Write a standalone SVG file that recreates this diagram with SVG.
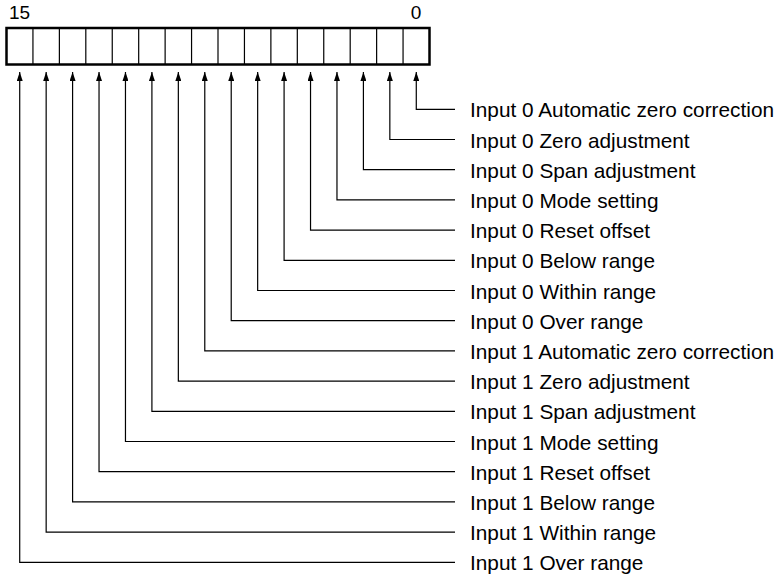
<svg xmlns="http://www.w3.org/2000/svg" width="783" height="575" viewBox="0 0 783 575">
<style>
.t{font-family:"Liberation Sans",Arial,sans-serif;font-size:20.8px;fill:#000}
.n{font-family:"Liberation Sans",Arial,sans-serif;font-size:19px;fill:#000}
.c{fill:none;stroke:#000;stroke-width:1.2}
.d{stroke:#000;stroke-width:1.2}
</style>
<defs>
<marker id="ah" viewBox="0 0 9 6" refX="9" refY="3" markerWidth="9" markerHeight="6" markerUnits="userSpaceOnUse" orient="auto">
<path d="M0,0 L9,3 L0,6 Z" fill="#000"/>
</marker>
</defs>
<rect width="783" height="575" fill="#fff"/>
<g id="register">
<text class="n" x="9" y="18.5">15</text>
<text class="n" x="416" y="18.5" text-anchor="middle">0</text>
<rect x="6.5" y="28" width="423" height="36.5" fill="none" stroke="#000" stroke-width="2.5"/>
<line class="d" x1="32.94" y1="28" x2="32.94" y2="64.5"/>
<line class="d" x1="59.38" y1="28" x2="59.38" y2="64.5"/>
<line class="d" x1="85.81" y1="28" x2="85.81" y2="64.5"/>
<line class="d" x1="112.25" y1="28" x2="112.25" y2="64.5"/>
<line class="d" x1="138.69" y1="28" x2="138.69" y2="64.5"/>
<line class="d" x1="165.13" y1="28" x2="165.13" y2="64.5"/>
<line class="d" x1="191.56" y1="28" x2="191.56" y2="64.5"/>
<line class="d" x1="218" y1="28" x2="218" y2="64.5"/>
<line class="d" x1="244.44" y1="28" x2="244.44" y2="64.5"/>
<line class="d" x1="270.88" y1="28" x2="270.88" y2="64.5"/>
<line class="d" x1="297.31" y1="28" x2="297.31" y2="64.5"/>
<line class="d" x1="323.75" y1="28" x2="323.75" y2="64.5"/>
<line class="d" x1="350.19" y1="28" x2="350.19" y2="64.5"/>
<line class="d" x1="376.63" y1="28" x2="376.63" y2="64.5"/>
<line class="d" x1="403.06" y1="28" x2="403.06" y2="64.5"/>
</g>
<g id="connectors">
<path class="c" marker-end="url(#ah)" d="M455,109.3 H416.28 V72"/>
<path class="c" marker-end="url(#ah)" d="M455,139.5 H389.84 V72"/>
<path class="c" marker-end="url(#ah)" d="M455,169.7 H363.41 V72"/>
<path class="c" marker-end="url(#ah)" d="M455,199.9 H336.97 V72"/>
<path class="c" marker-end="url(#ah)" d="M455,230.1 H310.53 V72"/>
<path class="c" marker-end="url(#ah)" d="M455,260.3 H284.09 V72"/>
<path class="c" marker-end="url(#ah)" d="M455,290.5 H257.66 V72"/>
<path class="c" marker-end="url(#ah)" d="M455,320.7 H231.22 V72"/>
<path class="c" marker-end="url(#ah)" d="M455,350.9 H204.78 V72"/>
<path class="c" marker-end="url(#ah)" d="M455,381.1 H178.34 V72"/>
<path class="c" marker-end="url(#ah)" d="M455,411.3 H151.91 V72"/>
<path class="c" marker-end="url(#ah)" d="M455,441.5 H125.47 V72"/>
<path class="c" marker-end="url(#ah)" d="M455,471.7 H99.03 V72"/>
<path class="c" marker-end="url(#ah)" d="M455,501.9 H72.59 V72"/>
<path class="c" marker-end="url(#ah)" d="M455,532.1 H46.16 V72"/>
<path class="c" marker-end="url(#ah)" d="M455,562.3 H19.72 V72"/>
</g>
<g id="labels">
<text id="b0" class="t" x="470" y="117.3">Input 0 Automatic zero correction</text>
<text id="b1" class="t" x="470" y="147.5">Input 0 Zero adjustment</text>
<text id="b2" class="t" x="470" y="177.7">Input 0 Span adjustment</text>
<text id="b3" class="t" x="470" y="207.9">Input 0 Mode setting</text>
<text id="b4" class="t" x="470" y="238.1">Input 0 Reset offset</text>
<text id="b5" class="t" x="470" y="268.3">Input 0 Below range</text>
<text id="b6" class="t" x="470" y="298.5">Input 0 Within range</text>
<text id="b7" class="t" x="470" y="328.7">Input 0 Over range</text>
<text id="b8" class="t" x="470" y="358.9">Input 1 Automatic zero correction</text>
<text id="b9" class="t" x="470" y="389.1">Input 1 Zero adjustment</text>
<text id="b10" class="t" x="470" y="419.3">Input 1 Span adjustment</text>
<text id="b11" class="t" x="470" y="449.5">Input 1 Mode setting</text>
<text id="b12" class="t" x="470" y="479.7">Input 1 Reset offset</text>
<text id="b13" class="t" x="470" y="509.9">Input 1 Below range</text>
<text id="b14" class="t" x="470" y="540.1">Input 1 Within range</text>
<text id="b15" class="t" x="470" y="570.3">Input 1 Over range</text>
</g>
</svg>
